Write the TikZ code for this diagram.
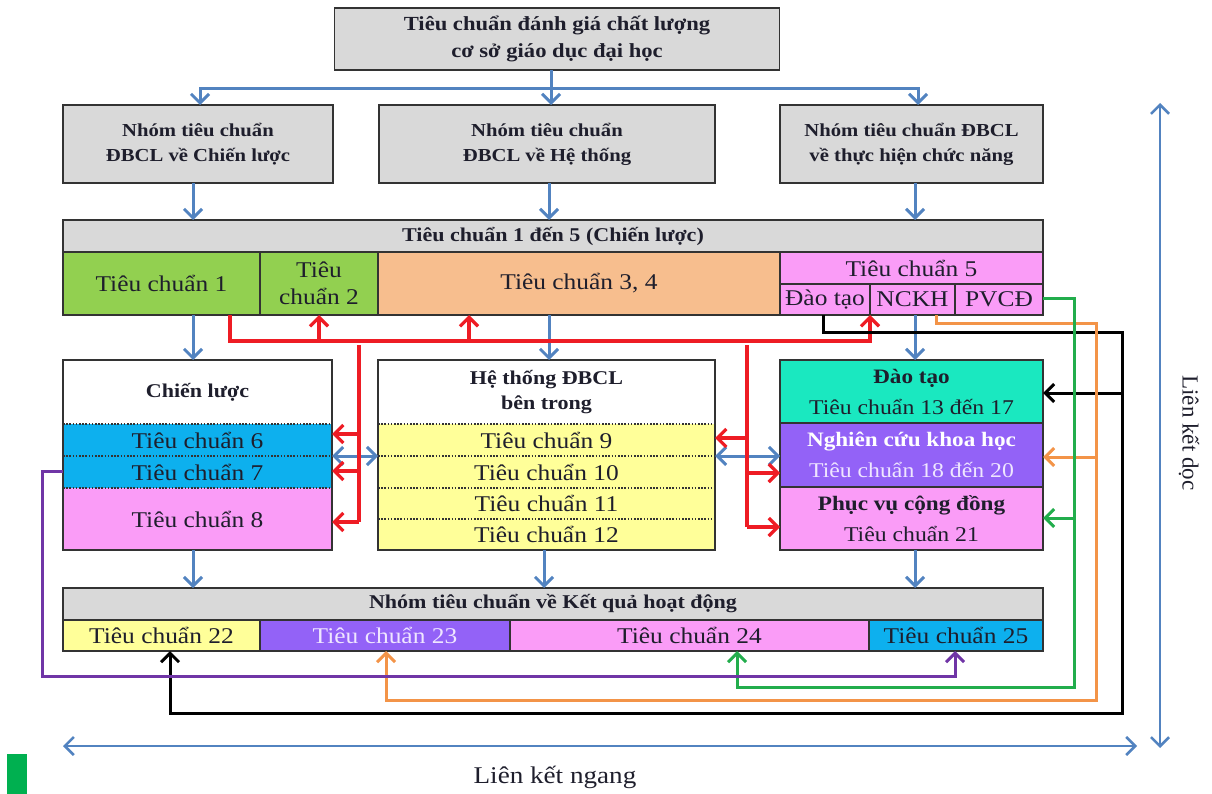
\documentclass[tikz,border=0pt]{standalone}
\usepackage{fontspec}
\setmainfont{Liberation Serif}[FakeStretch=1.13]
\newfontfamily\uprightserif{Liberation Serif}
\usetikzlibrary{arrows.meta}

% palette
\definecolor{gfill}{HTML}{D9D9D9}
\definecolor{edge}{HTML}{333333}
\definecolor{txt}{HTML}{1E1E2C}
\definecolor{greenc}{HTML}{92D050}
\definecolor{peach}{HTML}{F7BE8E}
\definecolor{pinkc}{HTML}{FA9CF7}
\definecolor{cyanc}{HTML}{0DB0EE}
\definecolor{yellowc}{HTML}{FFFF99}
\definecolor{tealc}{HTML}{1AE8C0}
\definecolor{violetc}{HTML}{9362F7}
\definecolor{lilac}{HTML}{EFE6FF}
\definecolor{linkblue}{HTML}{5283C0}
\definecolor{linkred}{HTML}{EE1C24}
\definecolor{linkorange}{HTML}{F39448}
\definecolor{linkgreen}{HTML}{22AD4C}
\definecolor{linkpurple}{HTML}{7035A6}
\definecolor{markgreen}{HTML}{00B050}

% type sizes
\newcommand\rgf{\fontsize{22.5}{27}\selectfont}
\newcommand\rgs{\fontsize{21}{25}\selectfont}
\newcommand\hdf{\bfseries\fontsize{19.5}{25}\selectfont}
\newcommand\hdr{\bfseries\fontsize{20.5}{25}\selectfont}
\newcommand\topf{\bfseries\fontsize{20}{27}\selectfont}
\newcommand\grpf{\bfseries\fontsize{18.3}{25}\selectfont}
\newcommand\vertf{\uprightserif\fontsize{23}{27}\selectfont}

\tikzset{
  bx/.style={inner sep=0pt, outer sep=0pt, align=center, text=txt},
  frame/.style={bx, draw=edge, line width=1.8pt},
  dots/.style={draw=edge, line width=1.3pt, dash pattern=on 1.5pt off 1.7pt},
  tip/.style={-{Straight Barb[length=9pt,width=18pt]}},
  tipboth/.style={{Straight Barb[length=9pt,width=18pt]}-{Straight Barb[length=9pt,width=18pt]}},
  bconn/.style={draw=linkblue, line width=3pt},
  rconn/.style={draw=linkred, line width=3.2pt},
  kconn/.style={draw=black, line width=3pt},
  oconn/.style={draw=linkorange, line width=3pt},
  gconn/.style={draw=linkgreen, line width=3pt},
  pconn/.style={draw=linkpurple, line width=3pt},
}

\begin{document}
\begin{tikzpicture}[x=1pt, y=-1pt]
\useasboundingbox (0,0) rectangle (1212,794);

% ---------- top level
\node[frame, fill=gfill, minimum width=445, minimum height=62, font=\topf] (root) at (557,39)
  {Tiêu chuẩn đánh giá chất lượng\\cơ sở giáo dục đại học};

% ---------- three groups
\node[frame, fill=gfill, minimum width=270, minimum height=78, font=\grpf] (gA) at (198,144)
  {Nhóm tiêu chuẩn\\ĐBCL về Chiến lược};
\node[frame, fill=gfill, minimum width=336, minimum height=78, font=\grpf] (gB) at (547,144)
  {Nhóm tiêu chuẩn\\ĐBCL về Hệ thống};
\node[frame, fill=gfill, minimum width=263, minimum height=78, font=\grpf] (gC) at (911.5,144)
  {Nhóm tiêu chuẩn ĐBCL\\về thực hiện chức năng};

% ---------- standards 1 to 5
\node[frame, fill=gfill, minimum width=980, minimum height=32, font=\hdf] (bandS) at (553,236)
  {Tiêu chuẩn 1 đến 5 (Chiến lược)};
\node[frame, fill=greenc, minimum width=197, minimum height=63, font=\rgf] (s1) at (161.5,283.5) {Tiêu chuẩn 1};
\node[frame, fill=greenc, minimum width=118, minimum height=63, font=\rgf] (s2) at (319,283.5) {Tiêu\\chuẩn 2};
\node[frame, fill=peach, minimum width=402, minimum height=63, font=\rgf] (s34) at (579,283.5) {Tiêu chuẩn 3, 4};
\node[frame, fill=pinkc, minimum width=263, minimum height=32, font=\rgf] (s5) at (911.5,268) {Tiêu chuẩn 5};
\node[frame, fill=pinkc, minimum width=90, minimum height=31, font=\rgf] (s5a) at (825,299.5) {Đào tạo};
\node[frame, fill=pinkc, minimum width=85, minimum height=31, font=\rgf] (s5b) at (912.5,299.5) {NCKH};
\node[frame, fill=pinkc, minimum width=88, minimum height=31, font=\rgf] (s5c) at (999,299.5) {PVCĐ};

% ---------- strategy block
\node[bx, fill=white, minimum width=269, minimum height=64, font=\hdf] (clh) at (197.5,392) {Chiến lược};
\node[bx, fill=cyanc, minimum width=269, minimum height=32, font=\rgf] (c6) at (197.5,440) {Tiêu chuẩn 6};
\node[bx, fill=cyanc, minimum width=269, minimum height=32, font=\rgf] (c7) at (197.5,472) {Tiêu chuẩn 7};
\node[bx, fill=pinkc, minimum width=269, minimum height=62, font=\rgf] (c8) at (197.5,519) {Tiêu chuẩn 8};
\draw[dots] (c6.north west) -- (c6.north east);
\draw[dots] (c7.north west) -- (c7.north east);
\draw[dots] (c8.north west) -- (c8.north east);
\node[frame, minimum width=269, minimum height=190] (cl) at (197.5,455) {};

% ---------- internal QA system block
\node[bx, fill=white, minimum width=337, minimum height=64, font=\hdf] (hth) at (546.5,392) {Hệ thống ĐBCL\\bên trong};
\node[bx, fill=yellowc, minimum width=337, minimum height=32, font=\rgf] (h9) at (546.5,440) {Tiêu chuẩn 9};
\node[bx, fill=yellowc, minimum width=337, minimum height=32, font=\rgf] (h10) at (546.5,472) {Tiêu chuẩn 10};
\node[bx, fill=yellowc, minimum width=337, minimum height=31, font=\rgf] (h11) at (546.5,503.5) {Tiêu chuẩn 11};
\node[bx, fill=yellowc, minimum width=337, minimum height=31, font=\rgf] (h12) at (546.5,534.5) {Tiêu chuẩn 12};
\draw[dots] (h9.north west) -- (h9.north east);
\draw[dots] (h10.north west) -- (h10.north east);
\draw[dots] (h11.north west) -- (h11.north east);
\draw[dots] (h12.north west) -- (h12.north east);
\node[frame, minimum width=337, minimum height=190] (ht) at (546.5,455) {};

% ---------- functions block
\node[frame, fill=tealc, minimum width=263, minimum height=63, font=\rgs] (fdt) at (911.5,391.5)
  {{\hdr Đào tạo}\\[6pt]Tiêu chuẩn 13 đến 17};
\node[frame, fill=violetc, minimum width=263, minimum height=64, font=\rgs] (fnc) at (911.5,455)
  {{\hdr\color{white} Nghiên cứu khoa học}\\[6pt]{\color{lilac} Tiêu chuẩn 18 đến 20}};
\node[frame, fill=pinkc, minimum width=263, minimum height=63, font=\rgs] (fpv) at (911.5,518.5)
  {{\hdr Phục vụ cộng đồng}\\[6pt]Tiêu chuẩn 21};

% ---------- results
\node[frame, fill=gfill, minimum width=980, minimum height=32, font=\hdf] (bandR) at (553,604)
  {Nhóm tiêu chuẩn về Kết quả hoạt động};
\node[frame, fill=yellowc, minimum width=197, minimum height=31, font=\rgf] (k22) at (161.5,635.5) {Tiêu chuẩn 22};
\node[frame, fill=violetc, minimum width=250, minimum height=31, font=\rgf, text=lilac] (k23) at (385,635.5) {Tiêu chuẩn 23};
\node[frame, fill=pinkc, minimum width=359, minimum height=31, font=\rgf] (k24) at (689.5,635.5) {Tiêu chuẩn 24};
\node[frame, fill=cyanc, minimum width=174, minimum height=31, font=\rgf] (k25) at (956,635.5) {Tiêu chuẩn 25};

% ---------- hierarchy (blue)
\coordinate (hub) at (551,89);
\coordinate (hubA) at (200,89);
\coordinate (hubC) at (918,89);
\draw[bconn] (root.south -| hub) -- (hub);
\draw[bconn, tip] (hub) -- (hubA) -- (hubA |- gA.north);
\draw[bconn, tip] (hub) -- (hub |- gB.north);
\draw[bconn, tip] (hub) -- (hubC) -- (hubC |- gC.north);

\coordinate (colA) at (193,0);
\coordinate (colB) at (549,0);
\coordinate (colB2) at (544,0);
\coordinate (colC) at (915,0);
\draw[bconn, tip] (gA.south -| colA) -- (bandS.north -| colA);
\draw[bconn, tip] (gB.south -| colB) -- (bandS.north -| colB);
\draw[bconn, tip] (gC.south -| colC) -- (bandS.north -| colC);
\draw[bconn, tip] (s1.south -| colA) -- (cl.north -| colA);
\draw[bconn, tip] (s34.south -| colB) -- (ht.north -| colB);
\draw[bconn, tip] (s5b.south -| colC) -- (fdt.north -| colC);
\draw[bconn, tip] (cl.south -| colA) -- (bandR.north -| colA);
\draw[bconn, tip] (ht.south -| colB2) -- (bandR.north -| colB2);
\draw[bconn, tip] (fpv.south -| colC) -- (bandR.north -| colC);

\draw[bconn, tipboth] (c7.north east) -- (h10.north west);
\draw[bconn, tipboth] (h10.north east) -- (h10.north east -| fnc.west);

% ---------- strategy links (red)
\coordinate (rStart) at (230,341);
\coordinate (rEnd) at (870,341);
\coordinate (rUp34) at (469,341);
\draw[rconn, tip] (s1.south -| rStart) -- (rStart) -- (rEnd) -- (s5a.south east);
\draw[rconn, tip] (s2.south |- rStart) -- (s2.south);
\draw[rconn, tip] (rUp34) -- (rUp34 |- s34.south);

\coordinate (rL) at (359,345);
\coordinate (rLa) at (359,434);
\coordinate (rLb) at (359,471);
\coordinate (rLc) at (359,522);
\draw[rconn] (rL) -- (rLc);
\draw[rconn, tip] (rLa) -- (rLa -| cl.east);
\draw[rconn, tip] (rLb) -- (rLb -| cl.east);
\draw[rconn, tip] (rLc) -- (rLc -| cl.east);

\coordinate (rR) at (747,345);
\coordinate (rRa) at (747,438);
\coordinate (rRb) at (747,473);
\coordinate (rRc) at (747,527);
\draw[rconn] (rR) -- (rRc);
\draw[rconn, tip] (rRa) -- (rRa -| ht.east);
\draw[rconn, tip] (rRb) -- (rRb -| fnc.west);
\draw[rconn, tip] (rRc) -- (rRc -| fpv.west);

% ---------- training link (black)
\coordinate (kA) at (823,332);
\coordinate (kB) at (1122,332);
\coordinate (kC) at (1122,713);
\coordinate (kD) at (170,713);
\coordinate (kM) at (1122,393);
\draw[kconn, tip] (s5a.south -| kA) -- (kA) -- (kB) -- (kC) -- (kD) -- (kD |- k22.south);
\draw[kconn, tip] (kM) -- (kM -| fdt.east);

% ---------- research link (orange)
\coordinate (oA) at (936,323);
\coordinate (oB) at (1096,323);
\coordinate (oC) at (1096,700);
\coordinate (oD) at (386,700);
\coordinate (oM) at (1096,457);
\draw[oconn, tip] (s5b.south -| oA) -- (oA) -- (oB) -- (oC) -- (oD) -- (oD |- k23.south);
\draw[oconn, tip] (oM) -- (oM -| fnc.east);

% ---------- community service link (green)
\coordinate (grA) at (1074,298);
\coordinate (grB) at (1074,687);
\coordinate (grC) at (737,687);
\coordinate (grM) at (1074,518);
\draw[gconn, tip] (s5c.east |- grA) -- (grA) -- (grB) -- (grC) -- (grC |- k24.south);
\draw[gconn, tip] (grM) -- (grM -| fpv.east);

% ---------- standard 7 link (purple)
\coordinate (pA) at (42,471);
\coordinate (pB) at (42,676);
\coordinate (pC) at (955,676);
\draw[pconn, tip] (c7.west |- pA) -- (pA) -- (pB) -- (pC) -- (pC |- k25.south);

% ---------- axes
\coordinate (vTop) at (1160,103);
\coordinate (vBot) at (1160,748);
\draw[draw=linkblue, line width=2.6pt, tipboth] (vTop) -- (vBot);
\coordinate (hL) at (63,746);
\coordinate (hR) at (1137,746);
\draw[draw=linkblue, line width=2.6pt, tipboth] (hL) -- (hR);
\node[bx, font=\vertf, rotate=-90] (vlab) at (1189,433) {Liên kết dọc};
\node[bx, font=\fontsize{24}{28}\selectfont] (hlab) at (555,777) {Liên kết ngang};

% corner marker
\node[bx, fill=markgreen, minimum width=20, minimum height=40] (mark) at (17,774) {};
\end{tikzpicture}
\end{document}
